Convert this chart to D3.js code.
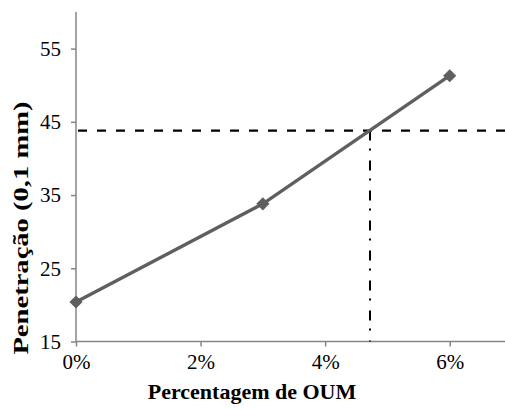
<!DOCTYPE html>
<html><head><meta charset="utf-8">
<script src="https://cdn.jsdelivr.net/npm/d3@7/dist/d3.min.js"></script>
<style>html,body{margin:0;padding:0;background:#fff;}svg{display:block;}
text{font-family:"Liberation Serif","Times New Roman",Times,"DejaVu Serif",serif;}</style>
</head><body>
<script>
const xValues = [0, 3, 6];
const yValues = [20.4, 33.8, 51.3];
const xTicks = [0, 2, 4, 6];
const yTicks = [15, 25, 35, 45, 55];
const refY = [43.8];
const refX = [4.72];
const xTitle = "Percentagem de OUM";
const yTitle = "Penetração (0,1 mm)";

const W = 505, H = 410;
const svg = d3.select("body").append("svg").attr("width", W).attr("height", H);
const x = d3.scaleLinear().domain([0, 7]).range([76, 512]);
const y = d3.scaleLinear().domain([15, 60]).range([341.5, 12]);

const xAxis = svg.append("g").attr("transform", `translate(0,${y(15)})`)
  .call(d3.axisBottom(x).tickValues(xTicks).tickSize(5).tickPadding(8).tickFormat(d => d + "%"));
const yAxis = svg.append("g").attr("transform", `translate(${x(0)},0)`)
  .call(d3.axisLeft(y).tickValues(yTicks).tickSize(5).tickPadding(10));
[xAxis, yAxis].forEach(g => {
  g.attr("font-family", null);
  g.select(".domain").attr("stroke", "#868686").attr("stroke-width", 1.5);
  g.selectAll(".tick line").attr("stroke", "#868686").attr("stroke-width", 1.5);
  g.selectAll("text").attr("font-size", 21).attr("fill", "#000");
});
yAxis.select(".domain").attr("d", `M0,${y(15)}V${y(60)}`);
xAxis.select(".domain").attr("d", `M${x(0)},0H${x(7)}`);

// reference lines
svg.append("line").attr("x1", x(0)).attr("x2", W).attr("y1", y(refY[0])).attr("y2", y(refY[0]))
  .attr("stroke", "#000").attr("stroke-width", 2.2).attr("stroke-dasharray", "9,10").attr("stroke-dashoffset", -2);
svg.append("line").attr("x1", x(refX[0])).attr("x2", x(refX[0])).attr("y1", y(refY[0])).attr("y2", y(15))
  .attr("stroke", "#000").attr("stroke-width", 2).attr("stroke-dasharray", "10,8,2,10");

// data line
const pts = xValues.map((v, i) => [v, yValues[i]]);
svg.append("path").datum(pts)
  .attr("d", d3.line().x(d => x(d[0])).y(d => y(d[1])))
  .attr("fill", "none").attr("stroke", "#5f5f5f").attr("stroke-width", 3.4);
svg.selectAll(".m").data(pts).enter().append("path")
  .attr("d", d3.symbol(d3.symbolDiamond2, 110))
  .attr("transform", d => `translate(${x(d[0])},${y(d[1])})`)
  .attr("fill", "#5f5f5f");

svg.append("text").attr("x", 252).attr("y", 399).attr("text-anchor", "middle")
  .attr("font-weight", "bold").attr("font-size", 22).text(xTitle);
svg.append("text").attr("transform", "translate(28,228) rotate(-90) scale(1.3,1)").attr("text-anchor", "middle")
  .attr("font-weight", "bold").attr("font-size", 22).text(yTitle);
</script>
</body></html>
